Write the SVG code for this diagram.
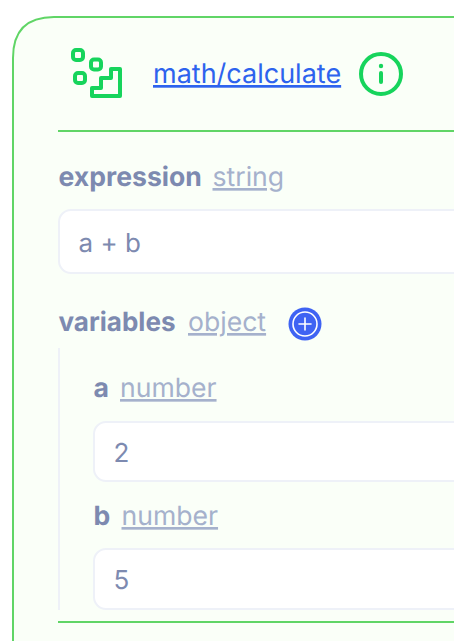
<svg xmlns="http://www.w3.org/2000/svg" width="454" height="641" viewBox="0 0 454 641">
<style>
text{font-family:Inter,"Liberation Sans",sans-serif;text-rendering:geometricPrecision}
.name{font-size:26.6px;font-weight:700;fill:#7d8ab0}
.type{font-size:26.6px;fill:#a5b1cc;text-decoration:underline}
.val{font-size:26px;fill:#7d8ab0}
.box{fill:#fff;stroke:#eef1f8;stroke-width:2}
.rule{stroke:#60d566;stroke-width:2;fill:none}
.ic{fill:none;stroke:#16d45c;stroke-width:4;stroke-linejoin:round;stroke-linecap:round}
</style>
<rect width="454" height="641" fill="#fff"/>
<path d="M480 17H54Q13 17 13 58V660H480Z" fill="#fafff8" stroke="#60d566" stroke-width="2"/>
<g id="header">
<g id="icon" class="ic">
<rect x="73" y="50" width="10" height="10" rx="3"/>
<rect x="91" y="59.500" width="10" height="10" rx="3"/>
<rect x="75" y="73" width="10" height="10" rx="3"/>
<path d="M92 96V88H101V78H111V69H120V96Z"/>
</g>
<text x="153" y="83" font-size="27" fill="#2d63ee" text-decoration="underline">math/calculate</text>
<g id="info">
<circle cx="381" cy="74" r="20" fill="none" stroke="#16d45c" stroke-width="4"/>
<circle cx="381" cy="66" r="2.200" fill="#16d45c"/>
<path d="M381 73V82" stroke="#16d45c" stroke-width="4" stroke-linecap="round"/>
</g>
</g>
<path class="rule" d="M58 131H454"/>
<g id="expression">
<text class="name" x="58.500" y="186">expression</text>
<text class="type" x="212.500" y="186">string</text>
<rect class="box" x="59" y="210" width="420" height="63" rx="12"/>
<text class="val" x="78.500" y="252">a + b</text>
</g>
<g id="variables">
<text class="name" x="58.500" y="331" textLength="117" lengthAdjust="spacingAndGlyphs">variables</text>
<text class="type" x="188" y="331">object</text>
<g id="add">
<circle cx="305" cy="324" r="16.500" fill="#3f63f3"/>
<circle cx="305" cy="324" r="12" fill="none" stroke="#fff" stroke-width="1.600"/>
<path d="M299 324H311M305 318V330" stroke="#fff" stroke-width="1.600" stroke-linecap="round"/>
</g>
<path d="M59 348V610" stroke="#eef1f8" stroke-width="2" fill="none"/>
</g>
<g id="var-a">
<text class="name" x="93.500" y="397">a</text>
<text class="type" x="120" y="397">number</text>
<rect class="box" x="94" y="422" width="400" height="59" rx="12"/>
<text class="val" x="113.500" y="462">2</text>
</g>
<g id="var-b">
<text class="name" x="93.500" y="525">b</text>
<text class="type" x="121.500" y="525">number</text>
<rect class="box" x="94" y="549" width="400" height="60" rx="12"/>
<text class="val" x="113.500" y="589">5</text>
</g>
<path class="rule" d="M58 622H454"/>
</svg>
